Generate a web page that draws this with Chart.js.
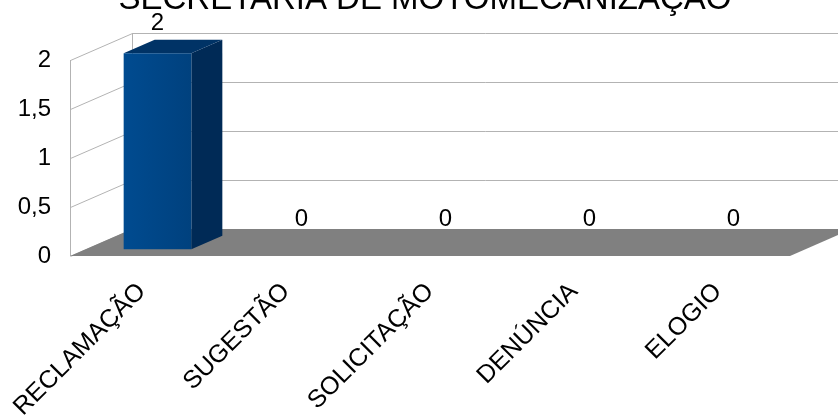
<!DOCTYPE html>
<html>
<head>
<meta charset="utf-8">
<script src="https://cdn.jsdelivr.net/npm/chart.js@4/dist/chart.umd.min.js"></script>
<style>
  body { margin: 0; background: #fff; }
</style>
</head>
<body>
<canvas id="chart" width="838" height="416"></canvas>
<script>
const titleText = "SECRETARIA DE MOTOMECANIZAÇÃO";
const categories = ["RECLAMAÇÃO", "SUGESTÃO", "SOLICITAÇÃO", "DENÚNCIA", "ELOGIO"];
const values = [2, 0, 0, 0, 0];
const yTicks = [0, 0.5, 1, 1.5, 2];

const font = "'Liberation Sans', Arial, sans-serif";
// depth of the fake 3d box (back wall offset)
const depth = { x: 62, y: -27 };

const threeD = {
  id: "threeD",
  beforeDatasetsDraw(chart) {
    const { ctx, chartArea: a, scales } = chart;
    const y = scales.y;
    const dx = depth.x, dy = depth.y;
    const top = y.getPixelForValue(yTicks[yTicks.length - 1]);
    const bottom = y.getPixelForValue(0);
    ctx.save();
    ctx.strokeStyle = "#b3b3b3";
    ctx.lineWidth = 1;

    // left wall + back wall grid lines
    yTicks.forEach((v) => {
      const py = Math.round(y.getPixelForValue(v)) + 0.5;
      ctx.beginPath();
      ctx.moveTo(a.left + 0.5, py);
      ctx.lineTo(a.left + dx + 0.5, py + dy);
      ctx.lineTo(chart.width + 50, py + dy);
      ctx.stroke();
    });
    ctx.beginPath();
    ctx.moveTo(a.left + 0.5, Math.round(top));
    ctx.lineTo(a.left + 0.5, Math.round(bottom));
    ctx.moveTo(a.left + dx + 0.5, Math.round(top + dy));
    ctx.lineTo(a.left + dx + 0.5, Math.round(bottom + dy));
    ctx.stroke();

    // floor
    ctx.fillStyle = "#808080";
    ctx.beginPath();
    ctx.moveTo(a.left, bottom);
    ctx.lineTo(a.right, bottom);
    ctx.lineTo(a.right + dx, bottom + dy);
    ctx.lineTo(a.left + dx, bottom + dy);
    ctx.closePath();
    ctx.fill();

    // bars as boxes
    const meta = chart.getDatasetMeta(0);
    meta.data.forEach((bar, i) => {
      if (!values[i]) return;
      const x0 = bar.x - bar.width / 2 + dx * 0.25;
      const x1 = x0 + bar.width;
      const t = bar.y + dy * 0.25;
      const b = bar.base + dy * 0.25;
      const bx = dx * 0.5, by = dy * 0.5;

      // side
      ctx.fillStyle = "#002a56";
      ctx.beginPath();
      ctx.moveTo(x1, t);
      ctx.lineTo(x1 + bx, t + by);
      ctx.lineTo(x1 + bx, b + by);
      ctx.lineTo(x1, b);
      ctx.closePath();
      ctx.fill();

      // top
      ctx.fillStyle = "#003366";
      ctx.beginPath();
      ctx.moveTo(x0, t);
      ctx.lineTo(x0 + bx, t + by);
      ctx.lineTo(x1 + bx, t + by);
      ctx.lineTo(x1, t);
      ctx.closePath();
      ctx.fill();

      // front, a bit lighter towards the left
      const g = ctx.createLinearGradient(x0, 0, x1, 0);
      g.addColorStop(0, "#004b90");
      g.addColorStop(1, "#00417e");
      ctx.fillStyle = g;
      ctx.fillRect(x0, t, bar.width, b - t);
    });
    ctx.restore();
  },
  afterDatasetsDraw(chart) {
    const { ctx } = chart;
    const meta = chart.getDatasetMeta(0);
    ctx.save();
    ctx.fillStyle = "#000";
    ctx.font = "24px " + font;
    ctx.textAlign = "center";
    ctx.textBaseline = "alphabetic";
    meta.data.forEach((bar, i) => {
      const x = bar.x + depth.x * 0.25;
      const y = bar.y + depth.y * 0.25 - 23;
      ctx.fillText(String(values[i]).replace(".", ","), x, y);
    });
    ctx.restore();
  },
  afterDraw(chart) {
    const { ctx } = chart;
    ctx.save();
    ctx.fillStyle = "#000";
    ctx.font = "33px " + font;
    ctx.textAlign = "center";
    ctx.textBaseline = "alphabetic";
    ctx.fillText(titleText, 425, 9);
    ctx.restore();
  },
};

const ctx = document.getElementById("chart");
new Chart(ctx, {
  type: "bar",
  data: {
    labels: categories,
    datasets: [
      {
        label: "Coluna B",
        data: values,
        backgroundColor: "rgba(0,0,0,0)",
        barPercentage: 0.47,
        categoryPercentage: 1,
      },
    ],
  },
  plugins: [threeD],
  options: {
    responsive: false,
    animation: false,
    layout: {
      padding: { top: 60, right: 48, left: 0, bottom: 0 },
    },
    plugins: {
      legend: { display: false },
      tooltip: { enabled: false },
    },
    scales: {
      y: {
        min: 0,
        max: 2,
        afterBuildTicks: (scale) => {
          scale.ticks = yTicks.map((v) => ({ value: v }));
        },
        afterFit: (scale) => {
          scale.width = 70;
        },
        grid: { display: false },
        border: { display: false },
        ticks: {
          padding: 11,
          color: "#000",
          font: { family: font, size: 24 },
          callback: (v) => String(v).replace(".", ","),
        },
      },
      x: {
        afterFit: (scale) => {
          scale.height = 160;
          // rotated labels may run off the left edge, like the original
          scale.paddingLeft = 0;
          scale.paddingRight = 0;
        },
        grid: { display: false },
        border: { display: false },
        ticks: {
          minRotation: 45,
          maxRotation: 45,
          padding: 13,
          color: "#000",
          font: { family: font, size: 25 },
        },
      },
    },
  },
});
</script>
</body>
</html>
